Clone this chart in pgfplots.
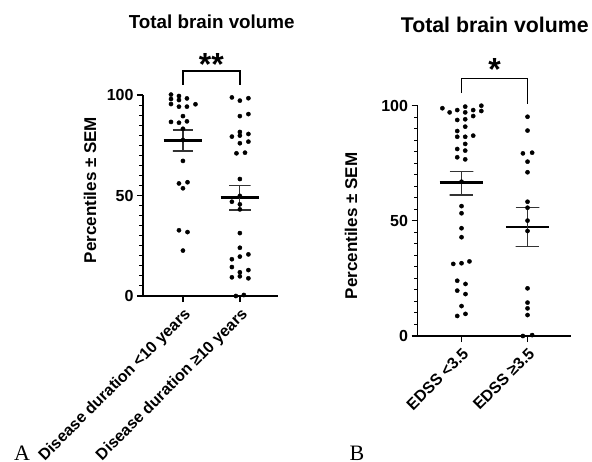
\documentclass[border=0pt]{standalone}
\usepackage{pgfplots}
\pgfplotsset{compat=1.18}
\usepackage{fontspec}
\setmainfont{Liberation Sans}
\newfontfamily\seriffont{Liberation Serif}
\begin{document}
\begin{tikzpicture}
\useasboundingbox (0pt,0pt) rectangle (592pt,461pt);
\pgfplotsset{prism/.style={
  scale only axis, axis lines=left, axis line style={line width=1.4pt,-},
  ymin=0, ymax=100, ytick={0,50,100}, minor y tick num=9,
  xtick={1,2}, tick align=outside,
  major tick length=6pt, minor tick length=3.5pt,
  every tick/.style={line width=1.3pt, black},
  every minor tick/.style={line width=1pt, black},
  clip=false,
  /pgf/number format/assume math mode=true,
  tick label style={font=\fontsize{16}{18}\selectfont\bfseries},
  xticklabel style={rotate=45, anchor=north east},
  ylabel style={font=\fontsize{17}{19}\selectfont\bfseries, anchor=center},
  dots/.style={only marks, mark=*, mark size=2.1pt, black},
  meanl/.style={black, line width=2.6pt},
  seml/.style={black!80, line width=1.2pt},
}}
% Panel A
\begin{axis}[prism, at={(143pt,165pt)}, anchor=south west, width=135pt, height=201pt,
  xmin=0.298, xmax=2.67,
  xticklabels={Disease duration <10 years, Disease duration ≥10 years},
  ylabel={Percentiles ± SEM},
  ylabel style={at={(axis description cs:-0.393,0.527)}}]
\addplot[dots] coordinates {(0.79,100.2)(0.79,98.0)(0.79,95.5)(0.93,99.5)(0.93,97.5)(0.93,94.2)(1.07,98.3)(1.07,94.2)(1.22,95.4)(1.0,89.5)(0.79,86.6)(0.93,86.2)(1.07,86.9)(1.0,83.2)(1.0,77.6)(1.0,67.2)(0.93,56.0)(1.08,56.6)(1.0,53.6)(0.93,32.7)(1.08,31.8)(1.0,22.6)};
\addplot[dots] coordinates {(1.86,98.8)(2.0,97.2)(2.15,98.4)(2.0,89.5)(2.15,90.5)(2.0,81.6)(1.86,79.3)(2.0,79.8)(2.15,80.6)(2.0,76.0)(2.15,76.8)(1.94,71.0)(2.09,71.3)(2.0,58.2)(1.86,46.9)(2.0,49.8)(2.0,45.6)(2.0,43.1)(2.0,31.3)(2.0,24.0)(2.15,20.7)(2.0,19.6)(1.86,18.3)(1.86,14.4)(2.0,11.8)(2.15,12.9)(1.86,9.3)(2.0,9.8)(2.15,8.8)(1.93,0.0)(2.07,0.5)};
\addplot[meanl] coordinates {(0.66,77.3)(1.34,77.3)};
\addplot[seml] coordinates {(0.825,82.6)(1.175,82.6)(1,82.6)(1,72.1)(0.825,72.1)(1.175,72.1)};
\addplot[meanl] coordinates {(1.66,48.9)(2.34,48.9)};
\addplot[seml] coordinates {(1.81,54.9)(2.19,54.9)(2,54.9)(2,42.8)(1.81,42.8)(2.19,42.8)};
\addplot[black, line width=1.4pt] coordinates {(1,105)(1,111.9)(2,111.9)(2,105)};
\node[anchor=north, inner sep=0pt, font=\fontsize{32}{32}\selectfont\bfseries] at (axis cs:1.5,120.7) {**};
\end{axis}
% Panel B
\begin{axis}[prism, at={(417.5pt,125pt)}, anchor=south west, width=153pt, height=230.3pt,
  xmin=0.333, xmax=2.651,
  xticklabels={EDSS <3.5, EDSS ≥3.5},
  ylabel={Percentiles ± SEM},
  ylabel style={at={(axis description cs:-0.435,0.478)}}]
\addplot[dots] coordinates {(0.71,98.9)(0.82,97.1)(0.935,98.1)(1.056,99.6)(1.056,97.1)(1.177,98.1)(1.3,100)(1.3,97.7)(0.935,93.8)(1.056,94.1)(1.177,95.5)(0.935,89.0)(1.056,90.9)(0.935,86.5)(1.056,86.5)(1.177,87.0)(1.056,83.4)(1.056,80.5)(0.935,81.2)(0.935,77.6)(1.056,76.7)(1,67.0)(1,56.4)(1,53.3)(1,46.8)(1,42.9)(0.875,31.3)(1,31.6)(1.12,32.4)(0.935,24.0)(1.06,22.6)(0.935,19.7)(1.06,18.2)(1,13.0)(0.935,8.7)(1.06,9.6)};
\addplot[dots] coordinates {(2,95.2)(2,89.2)(1.93,79.3)(2.07,79.6)(2,75.7)(2,71.1)(2,58.3)(2,55.7)(2,50.1)(2,45.6)(2,20.7)(2,14.5)(2,12.0)(2,9.1)(1.93,0)(2.07,0.4)};
\addplot[meanl] coordinates {(0.67,66.6)(1.33,66.6)};
\addplot[seml] coordinates {(0.82,71.6)(1.18,71.6)(1,71.6)(1,61.2)(0.82,61.2)(1.18,61.2)};
\addplot[meanl] coordinates {(1.67,47.3)(2.33,47.3)};
\addplot[seml] coordinates {(1.82,55.7)(2.18,55.7)(2,55.7)(2,39.0)(1.82,39.0)(2.18,39.0)};
\addplot[black, line width=1.4pt] coordinates {(1,105.5)(1,111.9)(2,111.9)(2,100.7)};
\node[anchor=north, inner sep=0pt, font=\fontsize{32}{32}\selectfont\bfseries] at (axis cs:1.5,120.6) {*};
\end{axis}
\node[font=\fontsize{18.8}{20}\selectfont\bfseries] at (211.7pt,439.3pt) {Total brain volume};
\node[font=\fontsize{21.3}{23}\selectfont\bfseries] at (494.7pt,436pt) {Total brain volume};
\node[anchor=base, inner sep=0pt, font=\fontsize{22}{22}\selectfont\seriffont] at (22pt,1pt) {A};
\node[anchor=base, inner sep=0pt, font=\fontsize{22}{22}\selectfont\seriffont] at (357pt,1pt) {B};
\end{tikzpicture}
\end{document}
